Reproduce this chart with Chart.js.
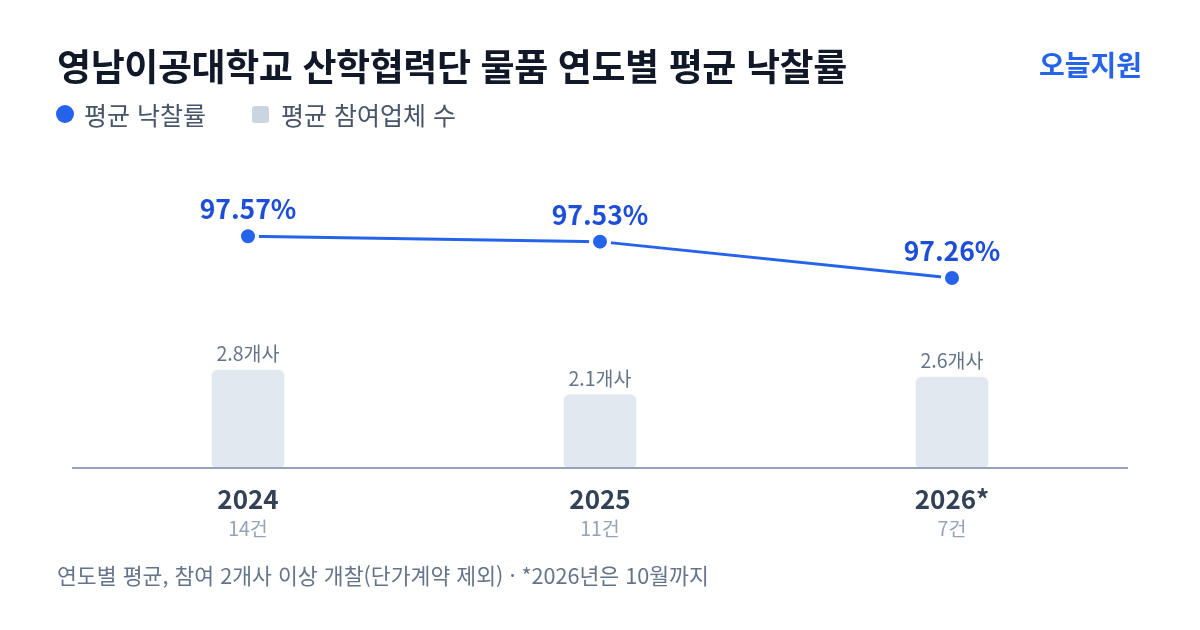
<!DOCTYPE html>
<html lang="ko">
<head>
<meta charset="UTF-8">
<title>영남이공대학교 산학협력단 물품 연도별 평균 낙찰률</title>
<script src="https://cdn.jsdelivr.net/npm/chart.js@4.4.1/dist/chart.umd.min.js"></script>
<style>
    body {
        margin: 0;
        width: 1200px;
        height: 630px;
        background: #ffffff;
        font-family: 'Noto Sans CJK KR', sans-serif;
        position: relative;
        overflow: hidden;
    }
    #rateChart {
        position: absolute;
        left: 0; top: 0;
    }
    .title {
        position: absolute;
        left: 57px; top: 40px;
        font-size: 37px;
        font-weight: 700;
        color: #111827;
        letter-spacing: -0.4px;
        line-height: 50px;
        white-space: nowrap;
    }
    .brand {
        position: absolute;
        right: 58px; top: 44px;
        font-size: 28px;
        font-weight: 700;
        color: #2563eb;
        line-height: 40px;
    }
    .legend {
        position: absolute;
        left: 56px; top: 97px;
        display: flex;
        align-items: center;
        font-size: 25px;
        color: #475569;
        line-height: 34px;
    }
    .legend .dot {
        width: 18px; height: 18px;
        border-radius: 50%;
        background: #2563eb;
        margin-right: 10px;
    }
    .legend .sq {
        width: 17px; height: 17px;
        border-radius: 3px;
        background: #cbd5e1;
        margin-left: 46px;
        margin-right: 12px;
    }
    .note {
        position: absolute;
        left: 57px; top: 560px;
        font-size: 21.6px;
        color: #64748b;
        line-height: 30px;
        white-space: nowrap;
    }
</style>
</head>
<body>
<canvas id="rateChart" width="1200" height="630"></canvas>
<div class="title">영남이공대학교 산학협력단 물품 연도별 평균 낙찰률</div>
<div class="brand">오늘지원</div>
<div class="legend">
    <span class="dot"></span><span>평균 낙찰률</span>
    <span class="sq"></span><span>평균 참여업체 수</span>
</div>
<div class="note">연도별 평균, 참여 2개사 이상 개찰(단가계약 제외) · *2026년은 10월까지</div>

<script>
    // data
    const years = ['2024', '2025', '2026*'];
    const caseCounts = [14, 11, 7];
    const avgRate = [97.57, 97.53, 97.26];
    const avgBidders = [2.8, 2.1, 2.6];

    const FONT = "'Noto Sans CJK KR', sans-serif";

    function drawBaseline(chart) {
        const { ctx, chartArea } = chart;
        ctx.save();
        ctx.strokeStyle = '#94a3b8';
        ctx.lineWidth = 2;
        ctx.beginPath();
        ctx.moveTo(chartArea.left, chartArea.bottom);
        ctx.lineTo(chartArea.right, chartArea.bottom);
        ctx.stroke();
        ctx.restore();
    }

    // value labels, baseline and the two-line x labels
    const annotate = {
        id: 'annotate',
        afterDatasetsDraw(chart) {
            const { ctx, chartArea } = chart;
            const xs = chart.scales.x;
            drawBaseline(chart); // over the bar bottoms

            ctx.save();
            ctx.textAlign = 'center';
            ctx.textBaseline = 'middle';

            chart.getDatasetMeta(1).data.forEach((bar, i) => {
                ctx.font = `400 19.5px ${FONT}`;
                ctx.fillStyle = '#64748b';
                ctx.fillText(avgBidders[i].toFixed(1) + '개사', bar.x, bar.y - 16);
            });

            chart.getDatasetMeta(0).data.forEach((pt, i) => {
                ctx.font = `700 26.5px ${FONT}`;
                ctx.fillStyle = '#1d4ed8';
                ctx.fillText(avgRate[i].toFixed(2) + '%', pt.x, pt.y - 27);
            });

            years.forEach((y, i) => {
                const x = xs.getPixelForValue(i);
                ctx.font = `700 26px ${FONT}`;
                ctx.fillStyle = '#334155';
                ctx.fillText(y, x, chartArea.bottom + 31);
                ctx.font = `400 19.5px ${FONT}`;
                ctx.fillStyle = '#94a3b8';
                ctx.fillText(caseCounts[i] + '건', x, chartArea.bottom + 61);
            });
            ctx.restore();
        }
    };

    new Chart(document.getElementById('rateChart'), {
        data: {
            labels: years,
            datasets: [
                {
                    type: 'line',
                    label: '평균 낙찰률',
                    data: avgRate,
                    yAxisID: 'yRate',
                    borderColor: '#2563eb',
                    backgroundColor: '#2563eb',
                    borderWidth: 3,
                    pointRadius: 9,
                    pointBorderWidth: 4,
                    pointBorderColor: '#ffffff',
                    tension: 0,
                    order: 0
                },
                {
                    type: 'bar',
                    label: '평균 참여업체 수',
                    data: avgBidders,
                    yAxisID: 'yCount',
                    backgroundColor: '#e2e8f0',
                    barThickness: 72,
                    borderRadius: 6,
                    borderSkipped: false,
                    order: 1
                }
            ]
        },
        options: {
            responsive: false,
            animation: false,
            devicePixelRatio: 1,
            layout: { padding: { top: 150, bottom: 162, left: 72, right: 72 } },
            plugins: { legend: { display: false }, tooltip: { enabled: false } },
            scales: {
                x: { display: false },
                yRate: { display: false, min: 95.85, max: 98.21 },
                yCount: { display: false, min: 0, max: 9.086 }
            }
        },
        plugins: [annotate]
    });
</script>
</body>
</html>
